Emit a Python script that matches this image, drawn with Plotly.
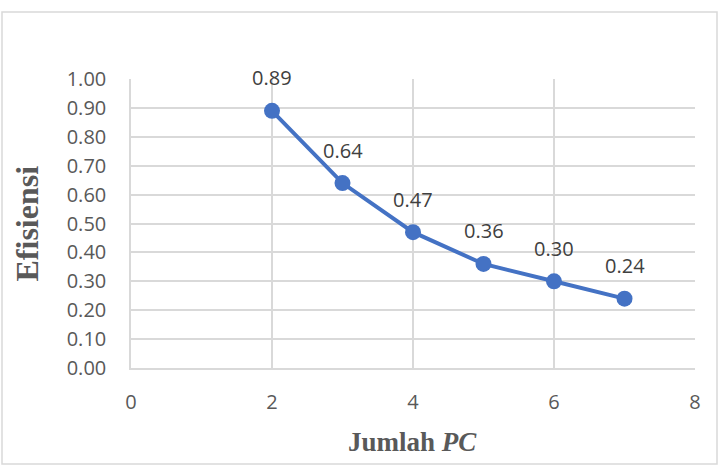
import plotly.graph_objects as go

jumlah_pc = [2, 3, 4, 5, 6, 7]
efisiensi = [0.89, 0.64, 0.47, 0.36, 0.30, 0.24]
data_labels = ["0.89", "0.64", "0.47", "0.36", "0.30", "0.24"]
y_tick_vals = [0.0, 0.1, 0.2, 0.3, 0.4, 0.5, 0.6, 0.7, 0.8, 0.9, 1.0]
x_tick_vals = [0, 2, 4, 6, 8]

BLUE = "#4472C4"
GRID = "#d9d9d9"
TICK_FONT = dict(family="Open Sans", size=20, color="#595959")

fig = go.Figure()
fig.add_trace(go.Scatter(
    x=jumlah_pc, y=efisiensi, mode="lines+markers",
    line=dict(color=BLUE, width=4),
    marker=dict(color=BLUE, size=16),
    showlegend=False, hoverinfo="skip",
))

L, R, T, B = 131, 25, 79, 99
W, H = 720, 467
pw, ph = W - L - R, H - T - B

annotations = []
for xv, yv, lab in zip(jumlah_pc, efisiensi, data_labels):
    annotations.append(dict(x=xv, y=yv, xref="x", yref="y", text=lab,
                            showarrow=False, yshift=33,
                            font=dict(family="Open Sans", size=20, color="#404040")))

annotations.append(dict(x=(26 - L) / pw, y=0.5, xref="paper", yref="paper",
                        xanchor="center", yanchor="middle",
                        text="<b>Efisiensi</b>", textangle=-90, showarrow=False,
                        font=dict(family="Liberation Serif", size=32, color="#595959")))
annotations.append(dict(x=(412 - L) / pw, y=(H - B - 442) / ph, xref="paper", yref="paper",
                        xanchor="center", yanchor="middle",
                        text="<b>Jumlah <i>PC</i></b>", showarrow=False,
                        font=dict(family="Liberation Serif", size=27, color="#595959")))

fig.update_layout(
    width=W, height=H,
    margin=dict(l=L, r=R, t=T, b=B),
    paper_bgcolor="white", plot_bgcolor="white",
    annotations=annotations,
    shapes=[dict(type="rect", xref="paper", yref="paper",
                 x0=(2 - L) / pw, x1=(717 - L) / pw,
                 y0=(H - B - 464) / ph, y1=(H - B - 12) / ph,
                 line=dict(color=GRID, width=1.5), fillcolor="rgba(0,0,0,0)", layer="below")],
)
fig.update_xaxes(range=[0, 8], tickvals=x_tick_vals, ticktext=[str(v) for v in x_tick_vals],
                 showgrid=True, gridcolor=GRID, gridwidth=1.5,
                 showline=True, linecolor=GRID, linewidth=1.5, zeroline=False,
                 tickfont=TICK_FONT, ticks="", ticklabelstandoff=15, fixedrange=True)
fig.update_yaxes(range=[0, 1.0], tickvals=y_tick_vals, ticktext=[f"{v:.2f}" for v in y_tick_vals],
                 showgrid=True, gridcolor=GRID, gridwidth=1.5,
                 showline=True, linecolor=GRID, linewidth=1.5, zeroline=False,
                 tickfont=TICK_FONT, ticks="", ticklabelstandoff=19, fixedrange=True)

fig.write_html("out.html")
